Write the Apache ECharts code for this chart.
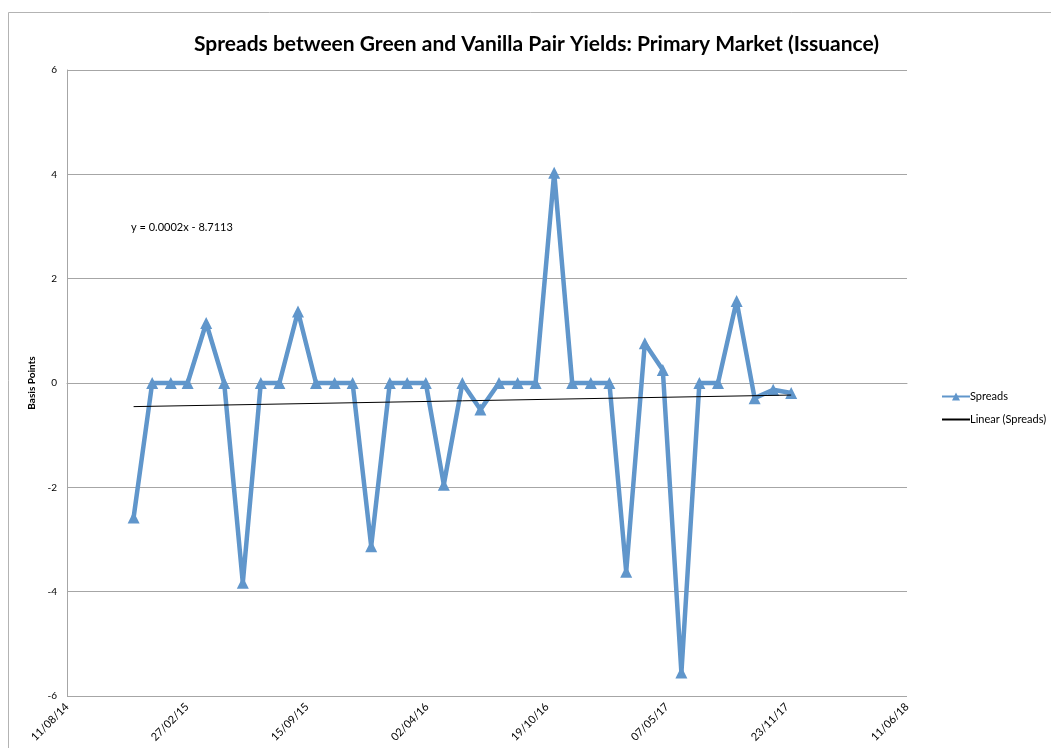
<!DOCTYPE html>
<html>
<head>
<meta charset="utf-8">
<script src="https://cdn.jsdelivr.net/npm/echarts@6/dist/echarts.min.js"></script>
<style>html,body{margin:0;padding:0;background:#fff}#c{width:1051px;height:748px}</style>
</head>
<body>
<div id="c"></div>
<script>
const titleText = 'Spreads between Green and Vanilla Pair Yields: Primary Market (Issuance)';
const yAxisName = 'Basis Points';
const equationText = 'y = 0.0002x - 8.7113';
const axisStart = '2014-08-11';
const axisEnd = '2018-06-11';
const dates = ['2014-11-30','2014-12-31','2015-01-31','2015-02-28','2015-03-31','2015-04-30','2015-05-31','2015-06-30','2015-07-31','2015-08-31','2015-09-30','2015-10-31','2015-11-30','2015-12-31','2016-01-31','2016-02-29','2016-03-31','2016-04-30','2016-05-31','2016-06-30','2016-07-31','2016-08-31','2016-09-30','2016-10-31','2016-11-30','2016-12-31','2017-01-31','2017-02-28','2017-03-31','2017-04-30','2017-05-31','2017-06-30','2017-07-31','2017-08-31','2017-09-30','2017-10-31','2017-11-30'];
const spreads = [-2.58,0,0,0,1.15,0,-3.83,0,0,1.37,0,0,0,-3.13,0,0,0,-1.95,0,-0.51,0,0,0,4.03,0,0,0,-3.62,0.76,0.25,-5.55,0,0,1.57,-0.29,-0.13,-0.19];

const DAY = 86400000;
const t0 = Date.parse(axisStart);
const toDays = s => Math.round((Date.parse(s) - t0) / DAY);
const xs = dates.map(toDays);
const spreadData = xs.map((x, i) => [x, spreads[i]]);
// least squares trend
const n = xs.length;
const mx = xs.reduce((a,b)=>a+b,0)/n, my = spreads.reduce((a,b)=>a+b,0)/n;
let sxy=0, sxx=0;
for (let i=0;i<n;i++){sxy+=(xs[i]-mx)*(spreads[i]-my); sxx+=(xs[i]-mx)**2;}
const slope = sxy/sxx, icpt = my - slope*mx;
const trendData = [[xs[0], icpt+slope*xs[0]],[xs[n-1], icpt+slope*xs[n-1]]];
const pad = v => String(v).padStart(2,'0');
const fmtDate = d => { const dt = new Date(t0 + d*DAY); return pad(dt.getUTCDate())+'/'+pad(dt.getUTCMonth()+1)+'/'+pad(dt.getUTCFullYear()%100); };

const FONT = 'Lato, "Open Sans", sans-serif';
const chart = echarts.init(document.getElementById('c'));
chart.setOption({
  animation: false,
  textStyle: {fontFamily: FONT},
  title: {text: titleText, left: 189, top: 29, textStyle: {fontFamily: FONT, fontSize: 21, fontWeight: 'bold', color: '#000'}},
  graphic: [
    {type:'rect', shape:{x:8.5,y:12.5,width:1200,height:900}, style:{fill:'none', stroke:'#B3B3B3', lineWidth:1}, silent:true, z:-1},
    {type:'text', left: 131, top: 222, style:{text: equationText, font: '11px '+FONT, fill:'#000'}}
  ],
  grid: {left: 67, right: 144, top: 70, bottom: 52},
  legend: {
    orient: 'vertical', left: 936, top: 386, itemGap: 12, itemWidth: 28, itemHeight: 10,
    textStyle: {fontSize: 11, fontFamily: FONT, color: '#000', padding: [0,0,0,-5]},
    data: [{name: 'Spreads'}, {name: 'Linear (Spreads)', itemStyle: {opacity: 0}}]
  },
  xAxis: {
    type: 'value', min: 0, max: toDays(axisEnd), interval: 200,
    axisLine: {lineStyle: {color: '#A6A6A6'}},
    axisTick: {show: false},
    splitLine: {show: false},
    axisLabel: {rotate: 45, fontSize: 11, color: '#000', margin: 9, formatter: v => fmtDate(v)}
  },
  yAxis: {
    type: 'value', min: -6, max: 6, interval: 2,
    name: yAxisName, nameLocation: 'middle', nameGap: 30, nameRotate: 90,
    nameTextStyle: {fontSize: 10, fontWeight: 'bold', color: '#000', fontFamily: FONT},
    axisLine: {show: true, lineStyle: {color: '#A6A6A6'}},
    axisTick: {show: false},
    splitLine: {lineStyle: {color: '#A6A6A6'}},
    axisLabel: {fontSize: 10, color: '#000', margin: 10}
  },
  series: [
    {name: 'Spreads', type: 'line', data: spreadData, symbol: 'triangle', symbolSize: 12,
     lineStyle: {color: '#6096CB', width: 4.5}, itemStyle: {color: '#6096CB'}, z: 3},
    {name: 'Linear (Spreads)', type: 'line', data: trendData, symbol: 'none',
     lineStyle: {color: '#000', width: 1}, itemStyle: {color: '#000'}, z: 4}
  ]
});
</script>
</body>
</html>
